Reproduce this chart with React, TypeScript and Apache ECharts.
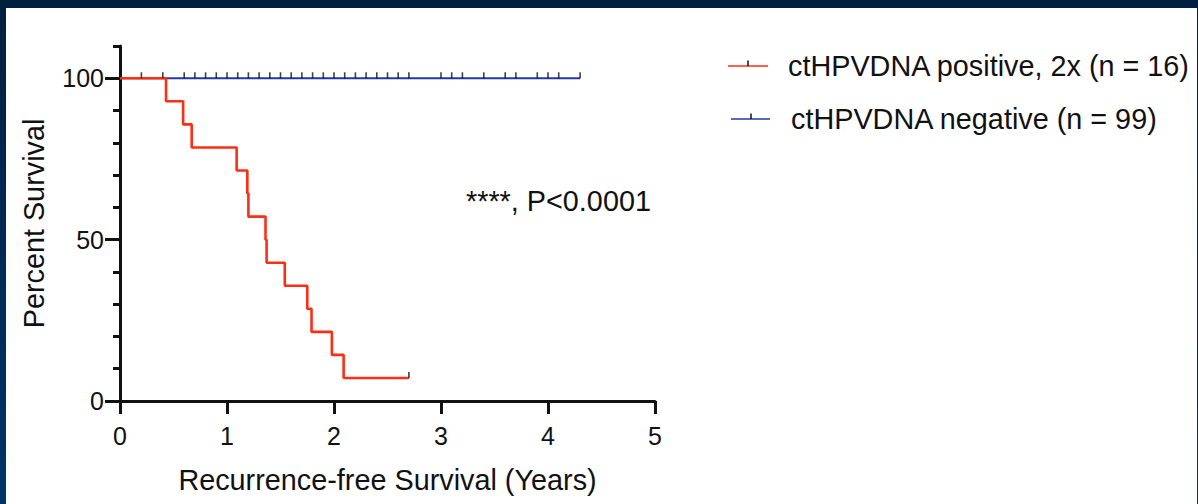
import React, { useEffect, useRef } from "react";
import * as echarts from "echarts";

// ---- Data ----
const posTimes = [0, 0.43, 0.59, 0.67, 1.09, 1.19, 1.2, 1.36, 1.37, 1.54, 1.75, 1.79, 1.98, 2.09, 2.7];
const posSurvival = [100, 92.86, 85.71, 78.57, 71.43, 64.29, 57.14, 50, 42.86, 35.71, 28.57, 21.43, 14.29, 7.14, 7.14];
const posCensorTimes = [2.7];
const posCensorSurvival = [7.14];

const negTimes = [0, 4.3];
const negSurvival = [100, 100];
const negCensorTimes = [
  0.2, 0.4, 0.6, 0.7, 0.8, 0.9, 1.0, 1.1, 1.2, 1.3, 1.4, 1.5, 1.6, 1.7, 1.8, 1.9, 2.0, 2.1,
  2.2, 2.3, 2.4, 2.5, 2.6, 2.7, 3.0, 3.1, 3.2, 3.4, 3.6, 3.7, 3.9, 4.0, 4.1, 4.3,
];

const posName = "ctHPVDNA positive, 2x (n = 16)";
const negName = "ctHPVDNA negative (n = 99)";
const annotation = "****, P<0.0001";
const xTitle = "Recurrence-free Survival (Years)";
const yTitle = "Percent Survival";
const yLabelValues = [0, 50, 100];

const FONT = "'Liberation Sans', Arial, Helvetica, sans-serif";
const RED = "#ff2d12";
const BLUE = "#1f3aa6";
const INK = "#111111";
const BIG = 28.8;

export default function App() {
  const ref = useRef<HTMLDivElement>(null);

  useEffect(() => {
    if (!ref.current) return;
    const chart = echarts.init(ref.current, undefined, { renderer: "svg" });

    const posData = posTimes.map((t, i) => [t, posSurvival[i]]);
    const negData = negTimes.map((t, i) => [t, negSurvival[i]]);
    const negCensor = negCensorTimes.map((t) => [t, 100]);
    const posCensor = posCensorTimes.map((t, i) => [t, posCensorSurvival[i]]);

    const censorSymbol = {
      type: "scatter",
      symbol: "rect",
      symbolSize: [1.6, 6],
      symbolOffset: [0, -3],
      itemStyle: { color: INK },
      silent: true,
      z: 5,
    };

    chart.setOption({
      animation: false,
      backgroundColor: "transparent",
      grid: { left: 120, top: 46, width: 535, height: 355, containLabel: false },
      xAxis: {
        type: "value",
        min: 0,
        max: 5,
        interval: 1,
        name: xTitle,
        nameLocation: "middle",
        nameGap: 64,
        nameTextStyle: { fontFamily: FONT, fontSize: BIG, color: INK },
        axisLine: { show: true, lineStyle: { color: INK, width: 3 } },
        axisTick: { show: true, length: 13, lineStyle: { color: INK, width: 3 } },
        axisLabel: { margin: 22, fontFamily: FONT, fontSize: 25, color: INK },
        splitLine: { show: false },
      },
      yAxis: [
        {
          type: "value",
          min: 0,
          max: 110,
          interval: 10,
          name: yTitle,
          nameLocation: "middle",
          nameGap: 72,
          nameRotate: 90,
          nameTextStyle: { fontFamily: FONT, fontSize: BIG, color: INK },
          axisLine: { show: true, lineStyle: { color: INK, width: 3 } },
          axisTick: { show: true, length: 7, lineStyle: { color: INK, width: 3 } },
          axisLabel: {
            margin: 16,
            fontFamily: FONT,
            fontSize: 25,
            color: INK,
            formatter: (v: number) => (yLabelValues.includes(v) ? String(v) : ""),
          },
          splitLine: { show: false },
        },
        {
          type: "value",
          min: 0,
          max: 110,
          position: "left",
          axisLine: { show: false },
          axisTick: {
            show: true,
            length: 15,
            customValues: yLabelValues,
            lineStyle: { color: INK, width: 3 },
          },
          axisLabel: { show: false },
          splitLine: { show: false },
        },
      ],
      series: [
        {
          name: negName,
          type: "line",
          data: negData,
          showSymbol: false,
          lineStyle: { color: BLUE, width: 2 },
          z: 2,
        },
        {
          name: posName,
          type: "line",
          step: "end",
          data: posData,
          showSymbol: false,
          lineStyle: { color: RED, width: 2.6 },
          z: 3,
        },
        { ...censorSymbol, name: negName + " censored", data: negCensor },
        { ...censorSymbol, name: posName + " censored", data: posCensor },
      ],
      graphic: [
        {
          type: "text",
          left: 466,
          top: 186,
          style: { text: annotation, fontFamily: FONT, fontSize: BIG, fill: INK },
        },
        // legend: positive
        { type: "line", shape: { x1: 728, y1: 66, x2: 768, y2: 66 }, style: { stroke: RED, lineWidth: 1.5 } },
        { type: "line", shape: { x1: 748, y1: 60.5, x2: 748, y2: 66 }, style: { stroke: INK, lineWidth: 1.5 } },
        {
          type: "text",
          x: 788,
          y: 66,
          style: { text: posName, fontFamily: FONT, fontSize: BIG, fill: INK, verticalAlign: "middle" },
        },
        // legend: negative
        { type: "line", shape: { x1: 731, y1: 119, x2: 770, y2: 119 }, style: { stroke: BLUE, lineWidth: 1.5 } },
        { type: "line", shape: { x1: 751, y1: 113.5, x2: 751, y2: 119 }, style: { stroke: INK, lineWidth: 1.5 } },
        {
          type: "text",
          x: 791,
          y: 119,
          style: { text: negName, fontFamily: FONT, fontSize: BIG, fill: INK, verticalAlign: "middle" },
        },
      ],
    });

    return () => chart.dispose();
  }, []);

  return (
    <div
      style={{
        position: "fixed",
        left: 0,
        top: 0,
        width: 1198,
        height: 504,
        background: "linear-gradient(to bottom, #001f3f 0%, #002a55 50%, #003468 100%)",
        overflow: "hidden",
      }}
    >
      <div
        style={{ position: "absolute", left: 6, top: 8, width: 1191, height: 496, background: "#ffffff" }}
      />
      <div ref={ref} style={{ position: "absolute", left: 0, top: 0, width: 1198, height: 504 }} />
    </div>
  );
}
